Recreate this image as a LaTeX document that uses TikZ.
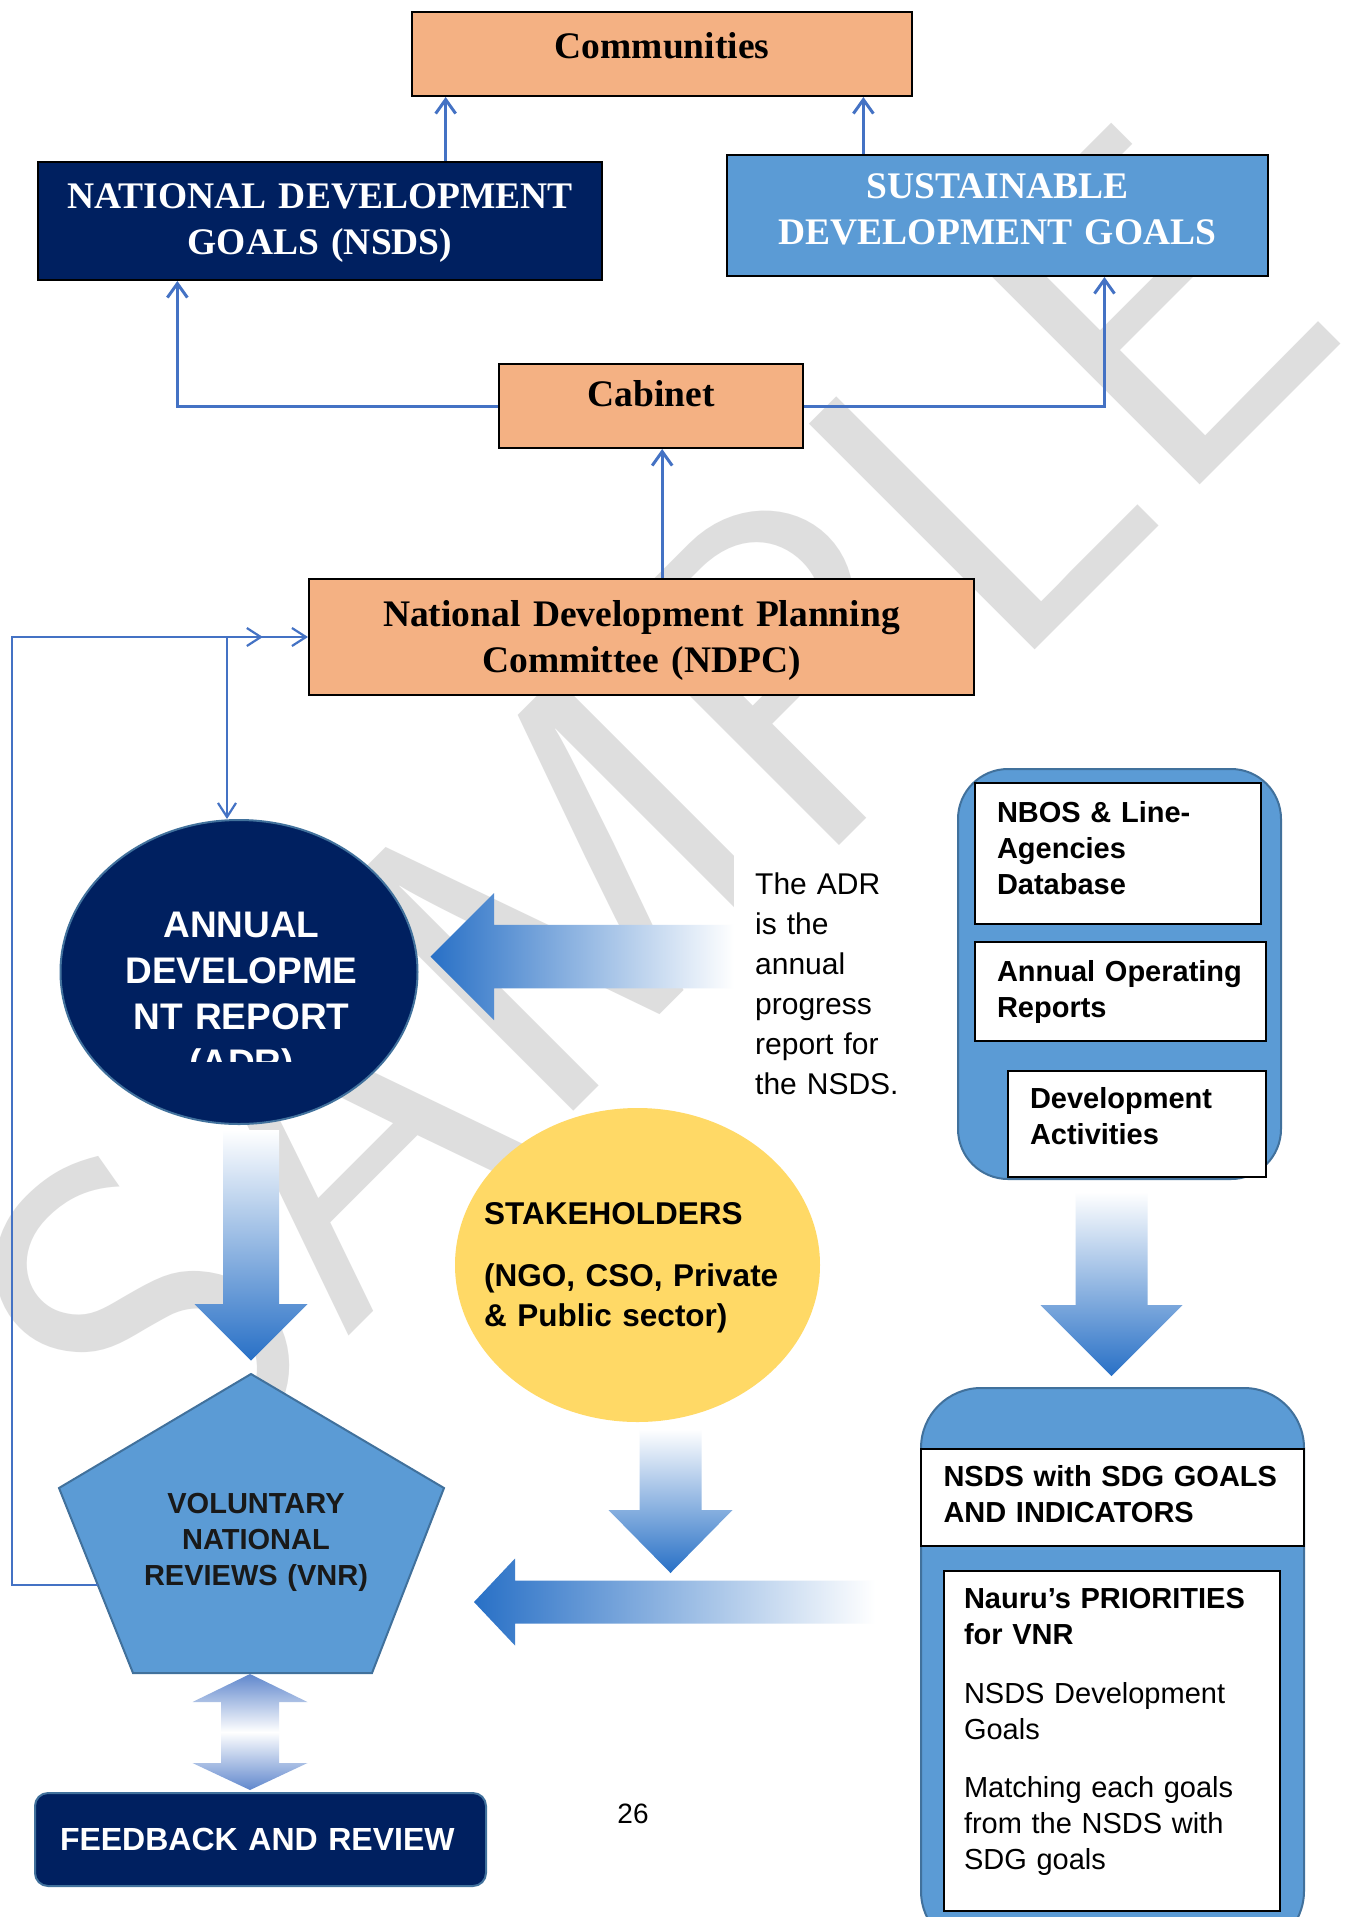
\documentclass[tikz,border=0pt]{standalone}
\usepackage{fontspec}
\usepackage{xcolor}
\usepackage{tikz}
\usetikzlibrary{calc,arrows.meta,shapes.geometric}
\newfontfamily\timesfont{Liberation Serif}
\newfontfamily\arialfont{Liberation Sans}
\definecolor{NDPPeach}{RGB}{244,177,131}
\definecolor{NDPNavy}{RGB}{0,32,96}
\definecolor{NDPBlue}{RGB}{91,155,213}
\definecolor{EdgeBlue}{RGB}{65,113,156}
\definecolor{LineBlue}{RGB}{68,114,196}
\definecolor{ArrowBlue}{RGB}{40,112,198}
\definecolor{StakeYellow}{RGB}{255,217,102}
\definecolor{MarkGray}{RGB}{222,222,222}

\tikzset{
  topbox/.style={draw=black, line width=2pt, inner sep=0pt, anchor=north west, align=center,
    font=\timesfont\bfseries\fontsize{37.5}{46}\selectfont},
  listbox/.style={draw=black, line width=2pt, fill=white, inner ysep=0pt, inner xsep=22pt,
    anchor=north west, align=left, font=\arialfont\bfseries\fontsize{29}{36}\selectfont},
  holder/.style={draw=EdgeBlue, line width=2pt, fill=NDPBlue, anchor=north west, inner sep=0pt},
  linkline/.style={draw=LineBlue, line width=3pt, -{Straight Barb[length=14pt,width=20pt]}},
  loopline/.style={draw=LineBlue, line width=2.2pt, -{Straight Barb[length=14pt,width=18pt]}},
  watermark/.style={rotate=45, anchor=base west, inner sep=0pt, text=MarkGray,
    font=\sffamily\fontsize{460}{460}\selectfont}
}

% block arrows: x, top, base, tip, half shaft, half head
\newcommand{\downblock}[6]{%
  \shade[top color=white, bottom color=ArrowBlue] (#1-#5,#2) -- (#1+#5,#2) -- (#1+#5,#3)
    -- (#1+#6,#3) -- (#1,#4) -- (#1-#6,#3) -- (#1-#5,#3) -- cycle;}
% tip x, tip y, base x, tail x, half shaft, half head
\newcommand{\leftblock}[6]{%
  \shade[left color=ArrowBlue, right color=white] (#1,#2) -- (#3,#2-#6) -- (#3,#2-#5)
    -- (#4,#2-#5) -- (#4,#2+#5) -- (#3,#2+#5) -- (#3,#2+#6) -- cycle;}

\begin{document}
\begin{tikzpicture}[x=1pt,y=-1pt]
    \useasboundingbox (0,0) rectangle (1346,1917);
    \clip (0,0) rectangle (1346,1917);
    \fill[white] (0,0) rectangle (1346,1917);

    % Watermark
    \node[watermark] (sample) at (171,1514) {SAMPLE};

    % Goal boxes
    \node[topbox, fill=NDPPeach, text width=500pt, text height=46pt, text depth=38pt] (comm) at (411,11) {Communities};
    \node[topbox, fill=NDPNavy, text=white, text width=564pt, text height=46pt, text depth=72pt] (nsds) at (37,161) {NATIONAL DEVELOPMENT\\GOALS (NSDS)};
    \node[topbox, fill=NDPBlue, text=white, text width=541pt, text height=43pt, text depth=78pt] (sdg) at (726,154) {SUSTAINABLE\\DEVELOPMENT GOALS};
    \node[topbox, fill=NDPPeach, text width=304pt, text height=42pt, text depth=42pt] (cab) at (498,363) {Cabinet};
    \node[topbox, fill=NDPPeach, text width=665pt, text height=47pt, text depth=69pt] (ndpc) at (308,578) {National Development Planning\\Committee (NDPC)};

    % Reporting lines
    \coordinate (nsdsup) at ($(nsds.north west)!0.722!(nsds.north east)$);
    \coordinate (sdgup) at ($(sdg.north west)!0.253!(sdg.north east)$);
    \coordinate (nsdsdown) at ($(nsds.south west)!0.248!(nsds.south east)$);
    \coordinate (sdgdown) at ($(sdg.south west)!0.697!(sdg.south east)$);
    \coordinate (ndpcup) at ($(ndpc.north west)!0.531!(ndpc.north east)$);
    \draw[linkline] (nsdsup) -- (nsdsup |- comm.south);
    \draw[linkline] (sdgup) -- (sdgup |- comm.south);
    \draw[linkline] (cab.west) -| (nsdsdown);
    \draw[linkline] (cab.east) -| (sdgdown);
    \draw[linkline] (ndpcup) -- (ndpcup |- cab.south);

    % Annual development report
    \node[ellipse, fill=NDPNavy, draw=EdgeBlue, line width=2pt, minimum width=357pt, minimum height=304pt, inner sep=0pt] (adr) at (239,972) {};
    \begin{scope}
        \clip (50,820) rectangle (430,1061);
        \node[anchor=base, text=white, align=center, text width=340pt, inner sep=0pt,
          font=\arialfont\bfseries\fontsize{37}{46}\selectfont] (adrtext) at (241.5,937.5) {ANNUAL\\DEVELOPME\\NT REPORT\\(ADR)};
    \end{scope}
    \leftblock{430.5}{956.5}{494}{734}{31.75}{63.5}
    \node[fill=white, anchor=north west, inner xsep=21pt, inner ysep=0pt, text width=160pt, align=left,
      text height=40.4pt, text depth=215.6pt, font=\arialfont\fontsize{30}{40}\selectfont] (adrnote) at (734,854) {The ADR\\is the\\annual\\progress\\report for\\the NSDS.};

    % Data sources
    \node[holder, rounded corners=50pt, minimum width=323pt, minimum height=410pt] (datahub) at (957,768) {};
    \node[listbox, text width=242pt, text height=39pt, text depth=102pt] (nbos) at (974,782) {NBOS \& Line-\\Agencies\\Database};
    \node[listbox, text width=247pt, text height=39pt, text depth=60pt] (aor) at (974,941) {Annual Operating\\Reports};
    \node[listbox, text width=214pt, text height=37pt, text depth=69pt] (devact) at (1007,1070) {Development\\Activities};
    \downblock{1111.5}{1192}{1305}{1376}{36}{71}

    % Stakeholders
    \node[ellipse, fill=StakeYellow, minimum width=365pt, minimum height=314pt, inner sep=0pt] (stake) at (637.5,1265) {};
    \node[anchor=base west, align=left, text width=300pt, inner sep=0pt,
      font=\arialfont\bfseries\fontsize{31.5}{40}\selectfont] (staketext) at (484,1224.5) {STAKEHOLDERS\\[21.5pt](NGO, CSO, Private\\\& Public sector)};
    \downblock{670.5}{1429}{1510}{1573}{31}{62}
    \downblock{251}{1130}{1304}{1360.5}{28}{56.5}

    % Priorities for the VNR
    \node[holder, rounded corners=60pt, minimum width=383pt, minimum height=563pt] (vnrhub) at (920,1387) {};
    \node[listbox, inner xsep=22.5pt, text width=338pt, text height=37pt, text depth=59.5pt] (sdgind) at (920,1448) {NSDS with SDG GOALS\\AND INDICATORS};
    \node[listbox, inner xsep=20.5pt, text width=295.5pt, text height=37pt, text depth=303pt,
      font=\arialfont\fontsize{29}{36}\selectfont] (prio) at (942.5,1570) {\textbf{Nauru’s PRIORITIES}\\\textbf{for VNR}\\[23pt]NSDS Development\\Goals\\[22pt]Matching each goals\\from the NSDS with\\SDG goals};
    \leftblock{474}{1602}{515}{875}{21.5}{43.5}

    % Voluntary national reviews
    \coordinate (vnrtop) at (251,1374);
    \coordinate (vnrright) at (444,1488);
    \coordinate (vnrbr) at (372,1673);
    \coordinate (vnrbl) at (133,1673);
    \coordinate (vnrleft) at (59,1488);
    \filldraw[fill=NDPBlue, draw=EdgeBlue, line width=2pt] (vnrtop) -- (vnrright) -- (vnrbr) -- (vnrbl) -- (vnrleft) -- cycle;
    \node[anchor=base, align=center, text width=300pt, inner sep=0pt, text=black!90,
      font=\arialfont\bfseries\fontsize{29}{36}\selectfont] (vnr) at (256,1513) {VOLUNTARY\\NATIONAL\\REVIEWS (VNR)};

    % Feedback loop
    \coordinate (vnrloop) at (98,1585);
    \coordinate (loopcorner) at (12,1585);
    \coordinate (loopjoin) at (227,636);
    \draw[loopline, -{Straight Barb[length=14pt,width=18pt,sep=28pt] Straight Barb[length=14pt,width=18pt]}] (vnrloop) -- (loopcorner) |- (ndpc.west);
    \draw[loopline] (loopjoin) -- (loopjoin |- adr.north);

    % Feedback and review
    \shade[top color=LineBlue!85, bottom color=LineBlue!85, middle color=white] (250,1674) -- (307.5,1702) -- (279,1702) -- (279,1763) -- (307.5,1763) -- (250,1790)
      -- (192.5,1763) -- (221,1763) -- (221,1702) -- (192.5,1702) -- cycle;
    \node[fill=NDPNavy, draw=EdgeBlue, line width=2pt, rounded corners=13pt, anchor=north west, inner xsep=25pt, inner ysep=0pt,
      text width=401pt, align=left, text height=57.5pt, text depth=35.5pt, text=white,
      font=\arialfont\bfseries\fontsize{32}{38}\selectfont] (feedback) at (34,1792) {FEEDBACK AND REVIEW};
    \node[anchor=base, inner sep=0pt, font=\arialfont\fontsize{28}{34}\selectfont] (pagenum) at (633,1823.6) {26};
\end{tikzpicture}
\end{document}
